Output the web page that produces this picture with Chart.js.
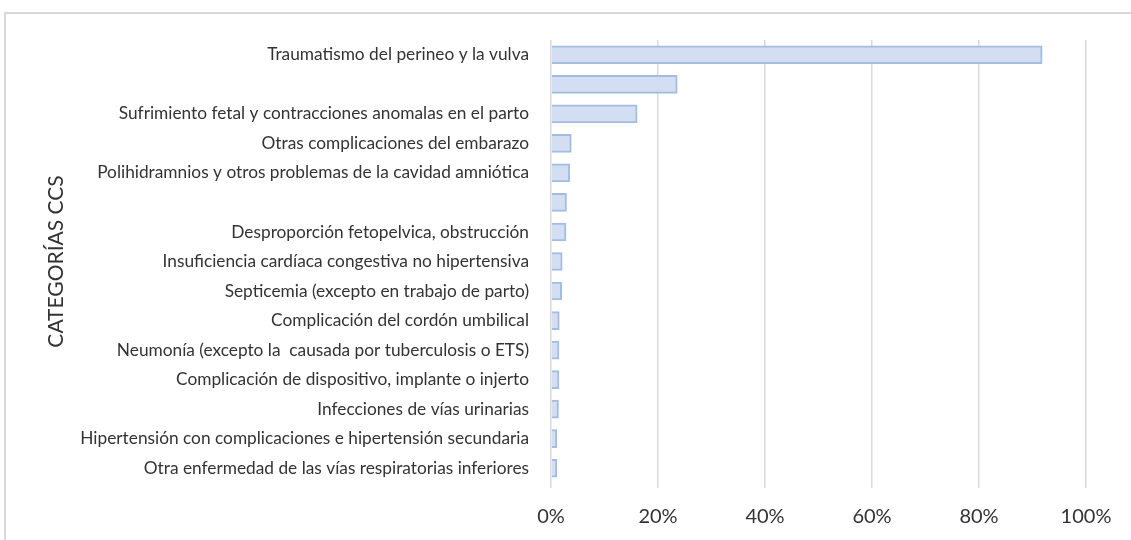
<!DOCTYPE html>
<html>
<head>
<meta charset="utf-8">
<script src="https://cdn.jsdelivr.net/npm/chart.js@4.4.0/dist/chart.umd.min.js"></script>
<style>
  html, body { margin: 0; padding: 0; background: #fff; }
  #wrap { position: relative; width: 1131px; height: 540px; overflow: hidden; }
  #frame { position: absolute; left: 4px; top: 12px; width: 1200px; height: 600px; border: 2px solid #d9d9d9; box-sizing: border-box; }
  canvas { position: absolute; left: 0; top: 0; }
</style>
</head>
<body>
<div id="wrap">
  <div id="frame"></div>
  <canvas id="chart" width="1131" height="540"></canvas>
</div>
<script>
// categorias CCS (dos etiquetas vacias en el original)
const categories = [
  "Traumatismo del perineo y la vulva",
  "",
  "Sufrimiento fetal y contracciones anomalas en el parto",
  "Otras complicaciones del embarazo",
  "Polihidramnios y otros problemas de la cavidad amniótica",
  "",
  "Desproporción fetopelvica, obstrucción",
  "Insuficiencia cardíaca congestiva no hipertensiva",
  "Septicemia (excepto en trabajo de parto)",
  "Complicación del cordón umbilical",
  "Neumonía (excepto la  causada por tuberculosis o ETS)",
  "Complicación de dispositivo, implante o injerto",
  "Infecciones de vías urinarias",
  "Hipertensión con complicaciones e hipertensión secundaria",
  "Otra enfermedad de las vías respiratorias inferiores"
];

const percentValues = [91.8, 23.6, 16.1, 3.8, 3.5, 2.9, 2.8, 2.1, 2.0, 1.55, 1.5, 1.5, 1.4, 1.1, 1.1];

const xTicks = [0, 20, 40, 60, 80, 100];

const ctx = document.getElementById("chart").getContext("2d");
new Chart(ctx, {
  type: "bar",
  data: {
    labels: categories,
    datasets: [{
      data: percentValues,
      backgroundColor: "#d3def2",
      borderColor: "#a3bde1",
      borderWidth: 2,
      barThickness: 18
    }]
  },
  options: {
    indexAxis: "y",
    responsive: false,
    animation: false,
    layout: { padding: { top: 40, right: 45, left: 0, bottom: 0 } },
    plugins: { legend: { display: false }, tooltip: { enabled: false } },
    scales: {
      x: {
        min: 0,
        max: 100,
        afterBuildTicks: (scale) => { scale.ticks = xTicks.map((v) => ({ value: v })); },
        afterFit: (scale) => { scale.height = 57; },
        grid: { color: "#d9d9d9", lineWidth: 1.5, tickLength: 5 },
        border: { display: false },
        ticks: {
          padding: 17,
          color: "#333333",
          font: { family: "Lato", size: 20 },
          callback: (v) => v + "%"
        }
      },
      y: {
        afterFit: (scale) => { scale.width = 551; },
        grid: { display: false, drawTicks: false },
        border: { display: false },
        ticks: {
          padding: 22,
          autoSkip: false,
          color: "#333333",
          font: { family: "Lato", size: 17.3 }
        },
        title: {
          display: true,
          text: "CATEGORÍAS CCS",
          color: "#333333",
          font: { family: "Lato", size: 21 },
          padding: { top: 44, bottom: 0 }
        }
      }
    }
  }
});
</script>
</body>
</html>
